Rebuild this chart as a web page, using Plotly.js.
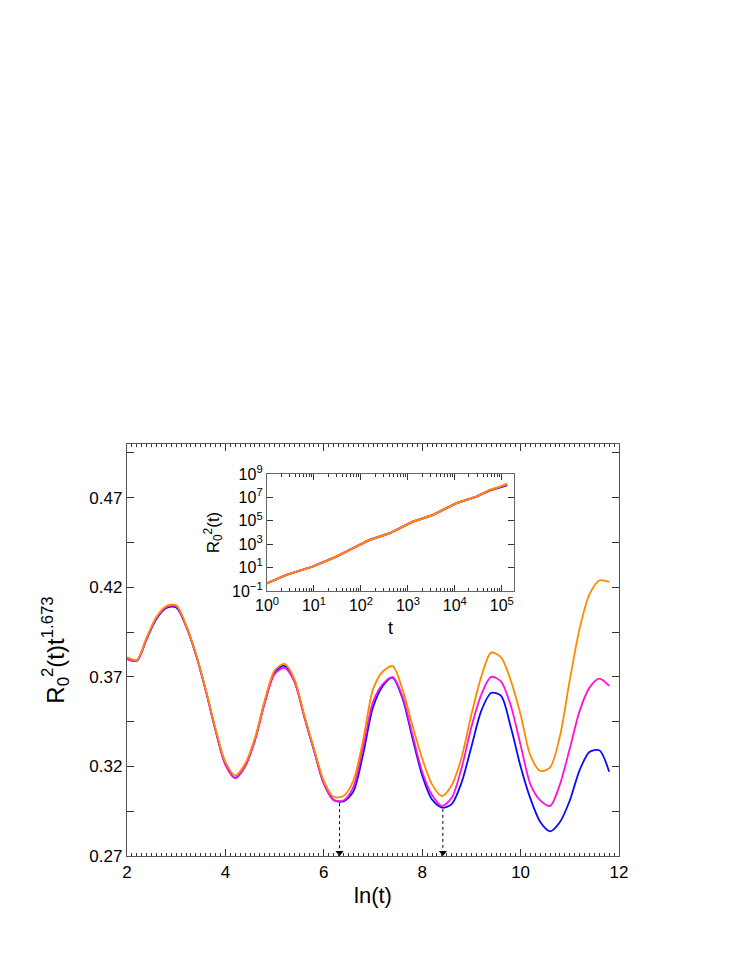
<!DOCTYPE html>
<html>
<head>
<meta charset="utf-8">
<script src="https://cdn.plot.ly/plotly-3.0.1.min.js"></script>
<style>html,body{margin:0;padding:0;background:#fff;}#chart{width:747px;height:967px;}</style>
</head>
<body>
<div id="chart"></div>
<script>
// ln(t) grid of the main panel
const lnT = [2.0,2.2,2.4,2.6,2.8,3.0,3.2,3.4,3.6,3.8,4.0,4.2,4.4,4.6,4.8,5.0,5.2,5.4,5.6,5.8,
             6.0,6.2,6.4,6.6,6.8,7.0,7.2,7.4,7.6,7.8,8.0,8.2,8.4,8.6,8.8,9.0,9.2,9.4,9.6,9.8,
             10.0,10.2,10.4,10.6,10.8,11.0,11.2,11.4,11.6,11.8];
const blueY = [0.380,0.3790,0.3912,0.4025,0.4085,0.4088,0.3983,0.3825,0.3625,0.3402,
               0.3212,0.3136,0.3202,0.3348,0.3560,0.3725,0.3762,0.3680,0.3482,0.3290,
               0.3105,0.3012,0.3005,0.3060,0.3270,0.3530,0.3650,0.3695,0.3580,0.3360,
               0.3150,0.3015,0.2970,0.2990,0.3110,0.3310,0.3510,0.3610,0.3595,0.3420,
               0.3200,0.3020,0.2890,0.2838,0.2890,0.3010,0.3180,0.3280,0.3290,0.3170];
const magentaY = [0.380,0.3790,0.3915,0.4030,0.4090,0.4095,0.3985,0.3825,0.3625,0.3400,
                  0.3210,0.3134,0.3200,0.3345,0.3555,0.3715,0.3750,0.3675,0.3480,0.3290,
                  0.3105,0.3012,0.3010,0.3085,0.3310,0.3560,0.3660,0.3698,0.3590,0.3380,
                  0.3170,0.3040,0.2979,0.3025,0.3190,0.3420,0.3600,0.3700,0.3675,0.3540,
                  0.3320,0.3100,0.3010,0.2980,0.3100,0.3300,0.3510,0.3640,0.3690,0.3650];
const orangeY = [0.381,0.3795,0.3920,0.4035,0.4095,0.4100,0.3990,0.3830,0.3630,0.3410,
                 0.3225,0.3150,0.3215,0.3358,0.3570,0.3735,0.3772,0.3690,0.3490,0.3300,
                 0.3120,0.3030,0.3035,0.3120,0.3348,0.3630,0.3730,0.3760,0.3630,0.3430,
                 0.3245,0.3100,0.3035,0.3095,0.3250,0.3490,0.3700,0.3835,0.3810,0.3680,
                 0.3490,0.3260,0.3175,0.3195,0.3370,0.3683,0.3970,0.4160,0.4238,0.4230];

// inset: R0^2(t) vs t
const insetT = [1, 2.5, 9.3, 29.5, 56, 151, 407, 1259, 3390, 10700, 28800, 55000, 90000, 130000];
const insetBlue = [0.46, 2.3, 12, 85, 316, 2290, 8500, 83000, 316000, 3.16e6, 1.15e7, 3.9e7, 7.0e7, 1.1e8];
const insetMagenta = [0.46, 2.3, 12, 85, 316, 2290, 8500, 83000, 316000, 3.16e6, 1.15e7, 4.1e7, 7.6e7, 1.25e8];
const insetOrange = [0.46, 2.3, 12, 85, 316, 2290, 8500, 83000, 316000, 3.16e6, 1.15e7, 4.3e7, 8.2e7, 1.45e8];

// dotted arrows marking minima
const arrowX = [6.32, 8.42];
const arrowTop = [0.2995, 0.2963];

// tick labels
const mainYTicks = [0.27,0.295,0.32,0.345,0.37,0.395,0.42,0.445,0.47,0.495];
const mainYText = ['0.27','','0.32','','0.37','','0.42','','0.47',''];
const insetXTicks = [1,10,100,1000,10000,100000];
const insetXText = ['10<sup>0</sup>','10<sup>1</sup>','10<sup>2</sup>','10<sup>3</sup>','10<sup>4</sup>','10<sup>5</sup>'];
const insetYTicks = [0.1,10,1000,1e5,1e7,1e9];
const insetYText = ['10<sup>−1</sup>','10<sup>1</sup>','10<sup>3</sup>','10<sup>5</sup>','10<sup>7</sup>','10<sup>9</sup>'];

const insetMinor = [];
for (let d = 0; d <= 5; d++) for (let m = 2; m <= 9; m++) insetMinor.push(m * Math.pow(10, d));

const C_BLUE = '#0a0aff', C_MAG = '#ff10dc', C_OR = '#ff8a00';

const traces = [
  {x: lnT, y: blueY, mode: 'lines', line: {color: C_BLUE, width: 1.8, shape: 'spline', smoothing: 0.8}, xaxis: 'x', yaxis: 'y'},
  {x: lnT, y: magentaY, mode: 'lines', line: {color: C_MAG, width: 1.8, shape: 'spline', smoothing: 0.8}, xaxis: 'x', yaxis: 'y'},
  {x: lnT, y: orangeY, mode: 'lines', line: {color: C_OR, width: 1.8, shape: 'spline', smoothing: 0.8}, xaxis: 'x', yaxis: 'y'},
  {x: arrowX, y: arrowX.map(() => 0.2718), mode: 'markers', marker: {symbol: 'triangle-down', size: 7, color: '#000'}, xaxis: 'x', yaxis: 'y', cliponaxis: false},
  {x: insetT, y: insetBlue, mode: 'lines', line: {color: C_BLUE, width: 2}, xaxis: 'x2', yaxis: 'y2'},
  {x: insetT, y: insetMagenta, mode: 'lines', line: {color: C_MAG, width: 2}, xaxis: 'x2', yaxis: 'y2'},
  {x: insetT, y: insetOrange, mode: 'lines', line: {color: C_OR, width: 2}, xaxis: 'x2', yaxis: 'y2'}
];

const shapes = arrowX.map((x, i) => ({
  type: 'line', xref: 'x', yref: 'y', x0: x, x1: x, y0: arrowTop[i], y1: 0.2725,
  line: {color: '#000', width: 1, dash: 'dot'}
}));

const FONT = 'Liberation Sans, Arial, Helvetica, sans-serif';
const axisCommon = {showgrid: false, zeroline: false, showline: true, linecolor: '#555', linewidth: 1.2,
                    ticks: 'inside', tickcolor: '#333', mirror: 'ticks'};

const layout = {
  width: 747, height: 967,
  margin: {l: 127, r: 128, t: 444, b: 111},
  paper_bgcolor: '#fff', plot_bgcolor: '#fff',
  showlegend: false,
  font: {family: FONT, color: '#000', size: 17},
  xaxis: Object.assign({}, axisCommon, {
    range: [2, 12], tickvals: [2,4,6,8,10,12], ticklen: 7,
    minor: {dtick: 0.1, tick0: 2, ticklen: 3, ticks: 'inside', tickcolor: '#333', showgrid: false},
    tickfont: {size: 17}, title: {text: 'ln(t)', font: {size: 22}, standoff: 7}
  }),
  yaxis: Object.assign({}, axisCommon, {
    range: [0.27, 0.5], tickmode: 'array', tickvals: mainYTicks, ticktext: mainYText, ticklen: 7,
    tickfont: {size: 17},
    title: {text: 'R<sub>0</sub><sup>2</sup>(t)t<sup>1.673</sup>', font: {size: 24}, standoff: 18}
  }),
  xaxis2: Object.assign({}, axisCommon, {
    type: 'log', domain: [0.2846, 0.7866], anchor: 'y2', range: [0, 5.26],
    tickmode: 'array', tickvals: insetXTicks, ticktext: insetXText, ticklen: 6,
    linecolor: '#666',
    minor: {tickmode: 'array', tickvals: insetMinor, ticklen: 3, ticks: 'inside', tickcolor: '#333', showgrid: false},
    tickfont: {size: 16}, title: {text: 't', font: {size: 18}, standoff: 8}
  }),
  yaxis2: Object.assign({}, axisCommon, {
    type: 'log', domain: [0.6432, 0.9272], anchor: 'x2', range: [-1, 9],
    tickmode: 'array', tickvals: insetYTicks, ticktext: insetYText, ticklen: 6,
    linecolor: '#666',
    tickfont: {size: 16},
    title: {text: 'R<sub>0</sub><sup>2</sup>(t)', font: {size: 17}, standoff: 8}
  }),
  shapes: shapes
};

Plotly.newPlot('chart', traces, layout, {displayModeBar: false, staticPlot: true});
</script>
</body>
</html>
